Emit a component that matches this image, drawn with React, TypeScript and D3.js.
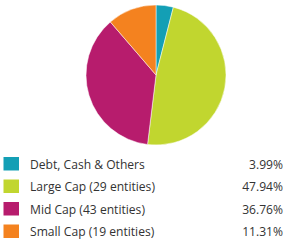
import React from "react";
import * as d3 from "d3";

const categories = ["Debt, Cash & Others", "Large Cap (29 entities)", "Mid Cap (43 entities)", "Small Cap (19 entities)"];
const values = [3.99, 47.94, 36.76, 11.31];
const valueLabels = ["3.99%", "47.94%", "36.76%", "11.31%"];
const colors = ["#139fb5", "#c1d62f", "#b71c6d", "#f4821f"];

export default function App() {
  const W = 290, H = 251;
  const cx = 156, cy = 75, r = 70;
  const pie = d3.pie<number>().sort(null).value((d) => d);
  const arcs = pie(values);
  const arc = d3.arc<d3.PieArcDatum<number>>().innerRadius(0).outerRadius(r);
  const font = "'Open Sans', sans-serif";
  return (
    <svg width={W} height={H} style={{ position: "absolute", left: 0, top: 0 }}>
      <g transform={`translate(${cx},${cy})`}>
        {arcs.map((a, i) => (
          <path key={i} d={arc(a) || ""} fill={colors[i]} stroke="#fff" strokeWidth={0.5} />
        ))}
      </g>
      {categories.map((c, i) => {
        const y0 = 157 + i * 22.5;
        return (
          <g key={c}>
            <rect x={3.5} y={y0} width={15.5} height={13.5} fill={colors[i]} />
            <text x={30} y={y0 + 11.5} fontFamily={font} fontSize={12.1} fill="#333">{c}</text>
            <text x={283} y={y0 + 11.5} textAnchor="end" fontFamily={font} fontSize={12.1} fill="#333">{valueLabels[i]}</text>
          </g>
        );
      })}
    </svg>
  );
}
